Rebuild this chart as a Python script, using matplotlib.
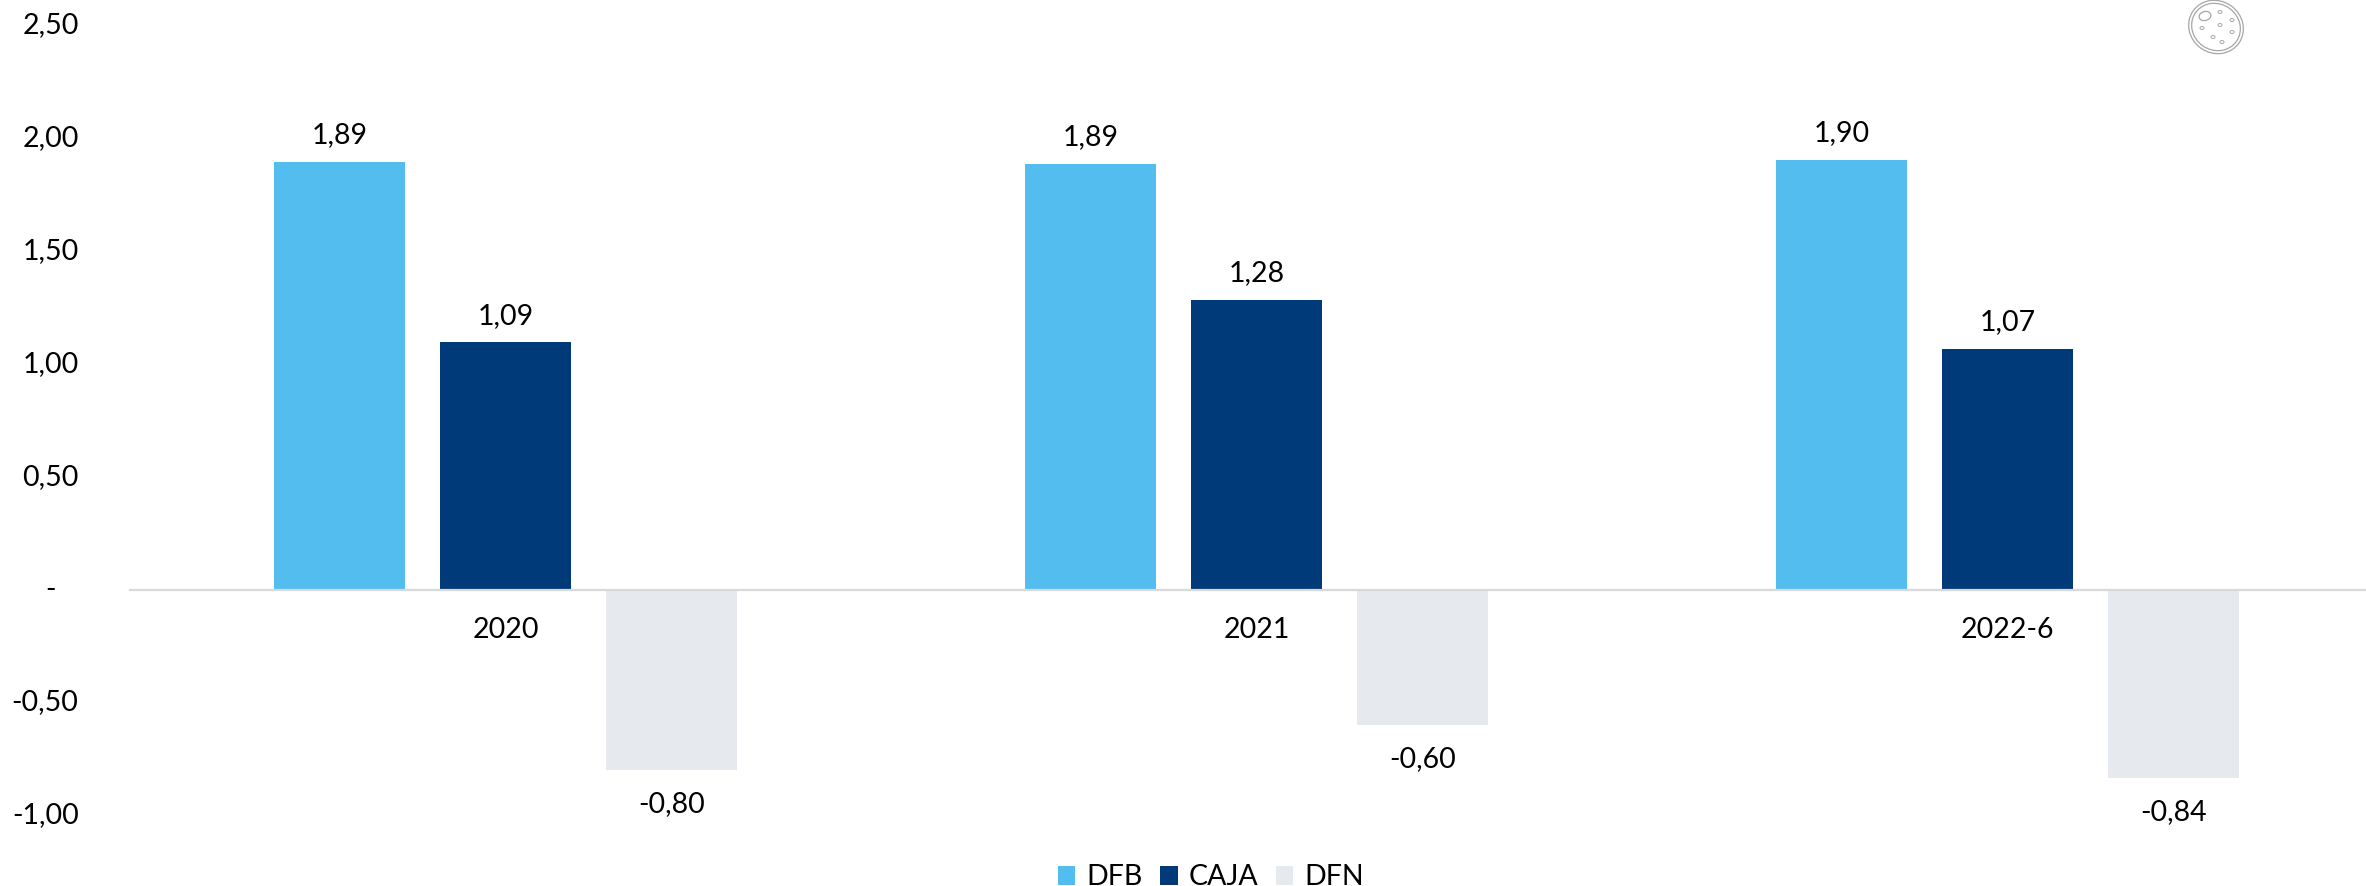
# coding;utf-8

import matplotlib
matplotlib.use("Agg")
import matplotlib.pyplot as plt
from matplotlib.patches import Ellipse
from matplotlib.transforms import ScaledTranslation
import numpy as np

plt.rcParams['font.family'] = ['Lato', 'DejaVu Sans']

categories = ['2020', '2021', '2022-6']
series_names = ['DFB', 'CAJA', 'DFN']
dfb = [1.894, 1.886, 1.904]
caja = [1.094, 1.284, 1.067]
dfn = [-0.80, -0.60, -0.836]
colors = ['#53BDEF', '#003A78', '#E6EAEE']
yticks = [-1.0, -0.5, 0, 0.5, 1.0, 1.5, 2.0, 2.5]
ytick_labels = ['-1,00', '-0,50', '-   ', '0,50', '1,00', '1,50', '2,00', '2,50']

W, H = 2366, 886
font_size = 20.5


def comma(v):
    return f"{v:.2f}".replace('.', ',')


fig = plt.figure(figsize=(W / 100, H / 100), dpi=100)
# axes box in pixels, zero line at y=589.5, 225.8 px per unit
top = 589.5 - 2.5 * 225.8
bottom = 589.5 + 1.0 * 225.8
ax = fig.add_axes([130 / W, 1 - bottom / H, (W - 130) / W, (bottom - top) / H])
ax.set_xlim(-0.5, 2.477)
ax.set_ylim(-1.0, 2.5)

x = np.arange(len(categories))
step = 0.221
width = 0.175
for i, vals in enumerate([dfb, caja, dfn]):
    bars = ax.bar(x + (i - 1) * step, vals, width, color=colors[i], label=series_names[i])
    pad = 15 if vals[0] < 0 else 10
    ax.bar_label(bars, labels=[comma(v) for v in vals], padding=pad, fontsize=font_size, color='black')

for s in ['top', 'left', 'right']:
    ax.spines[s].set_visible(False)
ax.spines['bottom'].set_position(('data', 0))
ax.spines['bottom'].set_color('#D9D9D9')
ax.spines['bottom'].set_linewidth(1.6)
ax.set_xticks(x)
ax.set_xticklabels(categories, fontsize=font_size)
ax.set_yticks(yticks)
ax.set_yticklabels(ytick_labels, fontsize=font_size)
ax.tick_params(axis='x', length=0, pad=20)
ax.tick_params(axis='y', length=0, pad=37)
# lift the y labels a little
lift = ScaledTranslation(0, 2.5 / 100, fig.dpi_scale_trans)
for lab in ax.get_yticklabels():
    lab.set_transform(lab.get_transform() + lift)

fig.legend(loc='lower center', bbox_to_anchor=(1211 / W, -0.034), ncol=3, frameon=False,
           fontsize=font_size, handlelength=0.62, handleheight=0.62,
           handletextpad=0.4, columnspacing=0.6)

# little cell drawing, top right corner
ic = fig.add_axes([0, 0, 1, 1], facecolor='none')
ic.set_xlim(0, W)
ic.set_ylim(H, 0)
ic.axis('off')
line = '#A6A6A6'
ic.add_patch(Ellipse((2216, 27), 56, 52, angle=35, fill=False, ec=line, lw=0.9))
ic.add_patch(Ellipse((2216, 27), 50, 46, angle=35, fill=False, ec=line, lw=0.9))
ic.add_patch(Ellipse((2205, 16), 12, 9, angle=-15, fill=False, ec=line, lw=0.9))
spots = [(2220, 12), (2232, 20), (2220, 25), (2202, 28), (2232, 32), (2213, 37), (2222, 42)]
for sx, sy in spots:
    ic.add_patch(Ellipse((sx, sy), 4, 3, fill=False, ec=line, lw=0.7))

fig.savefig('out.png', dpi=100)
